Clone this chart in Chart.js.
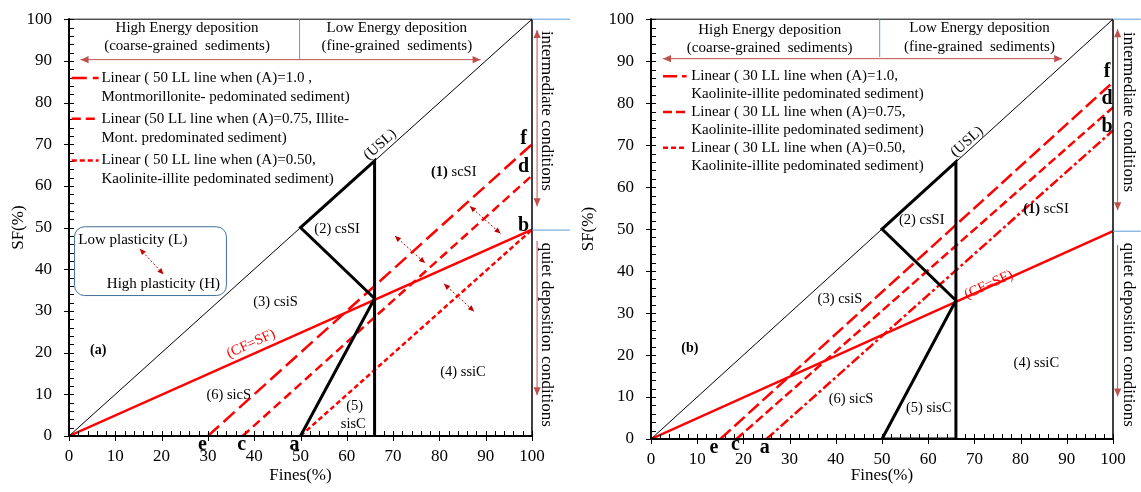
<!DOCTYPE html>
<html>
<head>
<meta charset="utf-8">
<script src="https://cdn.jsdelivr.net/npm/chart.js@4"></script>
<style>
  html, body { margin: 0; padding: 0; background: #fff; }
  #wrap { position: relative; width: 1141px; height: 492px; overflow: hidden; }
  canvas { position: absolute; top: 0; }
  #chartA { left: 0; }
  #chartB { left: 570px; }
</style>
</head>
<body>
<div id="wrap">
  <canvas id="chartA" width="570" height="492"></canvas>
  <canvas id="chartB" width="571" height="492"></canvas>
</div>
<script>
const FONT = 'Liberation Serif';

// axis ticks, both panels
const tickValues = [0, 10, 20, 30, 40, 50, 60, 70, 80, 90, 100];

// upper silt line and the CF = SF line
const uslLine = [{x: 0, y: 0}, {x: 100, y: 100}];
const cfsfLine = [{x: 0, y: 0}, {x: 100, y: 49.5}];

// zone boundaries as one polyline: a -> (66,33) -> (50,50) -> (66,66) -> (66,0)
const zonesA = [{x: 50, y: 0}, {x: 66, y: 33}, {x: 50, y: 50}, {x: 66, y: 66}, {x: 66, y: 0}];
const zonesB = [{x: 50, y: 0}, {x: 66, y: 33}, {x: 50, y: 50}, {x: 66, y: 66}, {x: 66, y: 0}, {x: 50, y: 0}];

// 50 LL lines, panel (a): e-f, c-d, a-b
const ll50A100 = [{x: 30, y: 0}, {x: 100, y: 70}];
const ll50A075 = [{x: 37.5, y: 0}, {x: 100, y: 62.5}];
const ll50A050 = [{x: 50, y: 0}, {x: 100, y: 49.5}];

// 30 LL lines, panel (b): e-f, c-d, a-b
const ll30A100 = [{x: 15, y: 0}, {x: 100, y: 85}];
const ll30A075 = [{x: 18.5, y: 0}, {x: 100, y: 79}];
const ll30A050 = [{x: 25, y: 0}, {x: 100, y: 73.5}];

const RED = '#ff0000';
const DARKRED = '#c0504d';
const BLUE = '#5b9bd5';
const dashA = {a100: [15, 6], a075: [9, 5], a050: [5, 3]};
const dashB = {a100: [14, 5], a075: [9, 4], a050: [10, 3, 3, 3]};

function lineSet(data, color, width, dash) {
  return {data, borderColor: color, borderWidth: width, borderDash: dash || [],
          pointRadius: 0, fill: false, tension: 0, showLine: true};
}

function drawArrow(ctx, x1, y1, x2, y2, o) {
  const ang = Math.atan2(y2 - y1, x2 - x1);
  const hl = o.head || 7, hw = hl * 0.45;
  ctx.save();
  ctx.strokeStyle = o.color; ctx.fillStyle = o.color; ctx.lineWidth = o.width || 1;
  ctx.setLineDash(o.dash || []);
  ctx.beginPath(); ctx.moveTo(x1, y1); ctx.lineTo(x2, y2); ctx.stroke();
  ctx.setLineDash([]);
  const head = (x, y, a) => {
    ctx.beginPath();
    ctx.moveTo(x, y);
    ctx.lineTo(x - hl * Math.cos(a) + hw * Math.sin(a), y - hl * Math.sin(a) - hw * Math.cos(a));
    ctx.lineTo(x - hl * Math.cos(a) - hw * Math.sin(a), y - hl * Math.sin(a) + hw * Math.cos(a));
    ctx.closePath(); ctx.fill();
  };
  head(x2, y2, ang);
  if (o.both) head(x1, y1, ang + Math.PI);
  ctx.restore();
}

function drawText(ctx, x, y, n) {
  const parts = Array.isArray(n.s) ? n.s : [[n.s, !!n.bold]];
  const size = n.size || 15;
  ctx.save();
  ctx.translate(x, y);
  if (n.rot) ctx.rotate(n.rot * Math.PI / 180);
  ctx.fillStyle = n.color || '#000';
  ctx.textBaseline = 'middle';
  ctx.textAlign = 'left';
  let total = 0;
  const widths = parts.map(([s, b]) => {
    ctx.font = (b ? 'bold ' : '') + size + 'px "' + FONT + '"';
    const w = ctx.measureText(s).width;
    total += w;
    return w;
  });
  let cx = n.align === 'left' ? 0 : -total / 2;
  parts.forEach(([s, b], i) => {
    ctx.font = (b ? 'bold ' : '') + size + 'px "' + FONT + '"';
    ctx.fillText(s, cx, 0);
    cx += widths[i];
  });
  ctx.restore();
}

function roundBox(ctx, l, t, r, b, rad) {
  ctx.beginPath();
  ctx.moveTo(l + rad, t);
  ctx.arcTo(r, t, r, b, rad);
  ctx.arcTo(r, b, l, b, rad);
  ctx.arcTo(l, b, l, t, rad);
  ctx.arcTo(l, t, r, t, rad);
  ctx.closePath();
}

// frame, inward ticks and all the labels/arrows drawn over the plot
function decorPlugin(notes) {
  return {
    id: 'decor',
    afterDatasetsDraw(chart) {
      const ctx = chart.ctx, a = chart.chartArea;
      const X = v => chart.scales.x.getPixelForValue(v);
      const Y = v => chart.scales.y.getPixelForValue(v);
      ctx.save();
      ctx.strokeStyle = '#000';
      ctx.lineWidth = 1;
      ctx.beginPath();
      ctx.moveTo(a.left, a.top); ctx.lineTo(a.right, a.top);
      ctx.stroke();
      ctx.lineWidth = 1.5;
      ctx.beginPath();
      ctx.moveTo(a.right, a.top); ctx.lineTo(a.right, a.bottom);
      ctx.stroke();
      ctx.lineWidth = 2;
      ctx.beginPath();
      ctx.moveTo(a.left, a.top - 1); ctx.lineTo(a.left, a.bottom); ctx.lineTo(a.right + 1, a.bottom);
      ctx.stroke();
      ctx.lineWidth = 1;
      for (let v = 0; v <= 100; v += 2) {
        const major = v % 10 === 0;
        const px = Math.round(X(v)) + 0.5, py = Math.round(Y(v)) + 0.5;
        ctx.beginPath();
        ctx.moveTo(px, a.bottom + (major ? 5 : 0)); ctx.lineTo(px, a.bottom - 5);
        ctx.moveTo(a.left - (major ? 5 : 0), py); ctx.lineTo(a.left + 5, py);
        ctx.stroke();
      }
      notes.forEach(n => {
        if (n.t === 'text') {
          drawText(ctx, X(n.x), Y(n.y), n);
        } else if (n.t === 'arrow') {
          drawArrow(ctx, X(n.x1), Y(n.y1), X(n.x2), Y(n.y2), n);
        } else if (n.t === 'line') {
          ctx.save();
          ctx.strokeStyle = n.color; ctx.lineWidth = n.width || 1;
          ctx.setLineDash(n.dash || []);
          ctx.beginPath(); ctx.moveTo(X(n.x1), Y(n.y1)); ctx.lineTo(X(n.x2), Y(n.y2)); ctx.stroke();
          ctx.restore();
        } else if (n.t === 'box') {
          ctx.save();
          ctx.strokeStyle = n.color; ctx.lineWidth = 1;
          roundBox(ctx, X(n.x1), Y(n.y1), X(n.x2), Y(n.y2), 10);
          ctx.stroke();
          ctx.restore();
        }
      });
      ctx.restore();
    }
  };
}

function makeChart(id, datasets, notes, box) {
  const tickFont = {family: FONT, size: 17};
  return new Chart(document.getElementById(id), {
    type: 'line',
    data: {datasets},
    options: {
      responsive: false,
      animation: false,
      events: [],
      layout: {padding: {top: box.top, right: box.right, left: 0, bottom: 0}},
      plugins: {legend: {display: false}, tooltip: {enabled: false}},
      scales: {
        x: {
          type: 'linear', min: 0, max: 100,
          afterBuildTicks: s => { s.ticks = tickValues.map(v => ({value: v})); },
          afterFit: s => { s.height = box.xh; },
          ticks: {font: tickFont, color: '#000', padding: 2, maxRotation: 0, autoSkip: false},
          grid: {display: false},
          border: {display: false},
          title: {display: true, text: 'Fines(%)', font: tickFont, color: '#000', padding: {top: 0, bottom: 6}}
        },
        y: {
          type: 'linear', min: 0, max: 100,
          afterBuildTicks: s => { s.ticks = tickValues.map(v => ({value: v})); },
          afterFit: s => { s.width = box.yw; },
          ticks: {font: tickFont, color: '#000', padding: 9, autoSkip: false},
          grid: {display: false},
          border: {display: false},
          title: {display: true, text: 'SF(%)', font: tickFont, color: '#000', padding: {top: 8, bottom: 0}}
        }
      }
    },
    plugins: [decorPlugin(notes)]
  });
}

// panel (a): 50 LL lines
const notesA = [
  {t: 'text', x: 25.5, y: 97.8, s: 'High Energy deposition'},
  {t: 'text', x: 25.5, y: 93.5, s: '(coarse-grained  sediments)'},
  {t: 'text', x: 70.8, y: 97.8, s: 'Low Energy deposition'},
  {t: 'text', x: 70.8, y: 93.5, s: '(fine-grained  sediments)'},
  {t: 'line', x1: 49.8, y1: 100, x2: 49.8, y2: 90.3, color: BLUE},
  {t: 'arrow', x1: 2.5, y1: 90.3, x2: 88.9, y2: 90.3, color: DARKRED, both: true, head: 8},
  {t: 'line', x1: 0.6, y1: 85.9, x2: 6.4, y2: 85.9, color: RED, width: 2.5, dash: dashA.a100},
  {t: 'text', x: 7, y: 85.9, s: 'Linear ( 50 LL line when (A)=1.0 ,', align: 'left'},
  {t: 'text', x: 7, y: 81.4, s: 'Montmorillonite- pedominated sediment)', align: 'left'},
  {t: 'line', x1: 0.6, y1: 76.1, x2: 6.4, y2: 76.1, color: RED, width: 2.5, dash: dashA.a075},
  {t: 'text', x: 7, y: 76.1, s: 'Linear (50 LL line when (A)=0.75, Illite-', align: 'left'},
  {t: 'text', x: 7, y: 71.4, s: 'Mont. predominated sediment)', align: 'left'},
  {t: 'line', x1: 0.6, y1: 66.1, x2: 6.4, y2: 66.1, color: RED, width: 2.5, dash: dashA.a050},
  {t: 'text', x: 7, y: 66.1, s: 'Linear ( 50 LL line when (A)=0.50,', align: 'left'},
  {t: 'text', x: 7, y: 61.6, s: 'Kaolinite-illite pedominated sediment)', align: 'left'},
  {t: 'text', x: 67.2, y: 69.9, s: '(USL)', rot: -42},
  {t: 'text', x: 83.1, y: 63.3, s: [['(1)', true], [' scSI', false]], size: 14.5},
  {t: 'text', x: 57.9, y: 49.6, s: '(2) csSI', size: 14.5},
  {t: 'text', x: 44.6, y: 32.2, s: '(3) csiS', size: 14.5},
  {t: 'text', x: 85.1, y: 15.3, s: '(4) ssiC', size: 14.5},
  {t: 'text', x: 61.7, y: 7.2, s: '(5)', size: 14.5},
  {t: 'text', x: 61.4, y: 2.8, s: 'sisC', size: 14.5},
  {t: 'text', x: 34.5, y: 9.8, s: '(6) sicS', size: 14.5},
  {t: 'text', x: 6.3, y: 20.5, s: '(a)', bold: true, size: 14},
  {t: 'text', x: 39.3, y: 22.1, s: '(CF=SF)', rot: -24.3, color: RED, size: 14.5},
  {t: 'text', x: 98.2, y: 71.4, s: 'f', bold: true, size: 20},
  {t: 'text', x: 98.2, y: 64.5, s: 'd', bold: true, size: 20},
  {t: 'text', x: 98.2, y: 50.4, s: 'b', bold: true, size: 20},
  {t: 'text', x: 28.8, y: -2.2, s: 'e', bold: true, size: 20},
  {t: 'text', x: 37.3, y: -2.2, s: 'c', bold: true, size: 20},
  {t: 'text', x: 48.7, y: -2.2, s: 'a', bold: true, size: 20},
  {t: 'box', x1: 1.2, y1: 50.2, x2: 34, y2: 33.7, color: '#41719c'},
  {t: 'text', x: 2, y: 47, s: 'Low plasticity (L)', align: 'left'},
  {t: 'text', x: 20.4, y: 36.4, s: 'High plasticity (H)'},
  {t: 'arrow', x1: 15.3, y1: 44.9, x2: 20.4, y2: 38.8, color: '#c00000', both: true, dash: [2, 2], head: 6},
  {t: 'arrow', x1: 70.4, y1: 48, x2: 76.9, y2: 41.5, color: '#c00000', both: true, dash: [2, 2], head: 6},
  {t: 'arrow', x1: 86.6, y1: 55.1, x2: 93.2, y2: 48.6, color: '#c00000', both: true, dash: [2, 2], head: 6},
  {t: 'arrow', x1: 81, y1: 36.5, x2: 87.5, y2: 29.9, color: '#c00000', both: true, dash: [2, 2], head: 6},
  {t: 'line', x1: 100, y1: 100, x2: 108.5, y2: 100, color: BLUE},
  {t: 'line', x1: 100, y1: 49.4, x2: 108.5, y2: 49.4, color: BLUE},
  {t: 'arrow', x1: 101.1, y1: 97.4, x2: 101.1, y2: 55.1, color: DARKRED, both: true, head: 8},
  {t: 'arrow', x1: 101.1, y1: 46.8, x2: 101.1, y2: 9.8, color: DARKRED, head: 8},
  {t: 'text', x: 103.2, y: 78, s: 'intermediate conditions', rot: 90, size: 17},
  {t: 'text', x: 103.2, y: 24.3, s: 'quiet deposition conditions', rot: 90, size: 17}
];

// panel (b): 30 LL lines
const notesB = [
  {t: 'text', x: 25.7, y: 97.4, s: 'High Energy deposition'},
  {t: 'text', x: 25.7, y: 93.1, s: '(coarse-grained  sediments)'},
  {t: 'text', x: 71.1, y: 97.9, s: 'Low Energy deposition'},
  {t: 'text', x: 71.1, y: 93.3, s: '(fine-grained  sediments)'},
  {t: 'line', x1: 49.5, y1: 100, x2: 49.5, y2: 91, color: BLUE},
  {t: 'arrow', x1: 2.6, y1: 90.6, x2: 89, y2: 90.6, color: DARKRED, both: true, head: 8},
  {t: 'line', x1: 2.6, y1: 86.4, x2: 7.7, y2: 86.4, color: RED, width: 2.5, dash: dashB.a100},
  {t: 'text', x: 8.7, y: 86.4, s: 'Linear ( 30 LL line when (A)=1.0,', align: 'left'},
  {t: 'text', x: 8.7, y: 82.1, s: 'Kaolinite-illite pedominated sediment)', align: 'left'},
  {t: 'line', x1: 2.6, y1: 77.9, x2: 7.7, y2: 77.9, color: RED, width: 2.5, dash: dashB.a075},
  {t: 'text', x: 8.7, y: 77.9, s: 'Linear ( 30 LL line when (A)=0.75,', align: 'left'},
  {t: 'text', x: 8.7, y: 73.6, s: 'Kaolinite-illite pedominated sediment)', align: 'left'},
  {t: 'line', x1: 2.6, y1: 69.4, x2: 7.7, y2: 69.4, color: RED, width: 2.5, dash: [5, 3]},
  {t: 'text', x: 8.7, y: 69.4, s: 'Linear ( 30 LL line when (A)=0.50,', align: 'left'},
  {t: 'text', x: 8.7, y: 65.1, s: 'Kaolinite-illite pedominated sediment)', align: 'left'},
  {t: 'text', x: 68.4, y: 70.8, s: '(USL)', rot: -42},
  {t: 'text', x: 85.5, y: 54.7, s: [['(1)', true], [' scSI', false]], size: 14.5},
  {t: 'text', x: 58.6, y: 52.1, s: '(2) csSI', size: 14.5},
  {t: 'text', x: 40.9, y: 33.3, s: '(3) csiS', size: 14.5},
  {t: 'text', x: 83.4, y: 18, s: '(4) ssiC', size: 14.5},
  {t: 'text', x: 60.1, y: 7.3, s: '(5) sisC', size: 14.5},
  {t: 'text', x: 43.3, y: 9.4, s: '(6) sicS', size: 14.5},
  {t: 'text', x: 8.4, y: 21.6, s: '(b)', bold: true, size: 14},
  {t: 'text', x: 73.1, y: 36.7, s: '(CF=SF)', rot: -24.3, color: RED, size: 14.5},
  {t: 'text', x: 98.7, y: 87.5, s: 'f', bold: true, size: 20},
  {t: 'text', x: 98.7, y: 81.1, s: 'd', bold: true, size: 20},
  {t: 'text', x: 98.7, y: 74.4, s: 'b', bold: true, size: 20},
  {t: 'text', x: 13.6, y: -2, s: 'e', bold: true, size: 20},
  {t: 'text', x: 18.3, y: -1.5, s: 'c', bold: true, size: 20},
  {t: 'text', x: 24.6, y: -2, s: 'a', bold: true, size: 20},
  {t: 'line', x1: 100, y1: 100, x2: 106, y2: 100, color: BLUE},
  {t: 'line', x1: 100, y1: 49.5, x2: 106, y2: 49.5, color: BLUE},
  {t: 'arrow', x1: 101, y1: 97.6, x2: 101, y2: 54.5, color: DARKRED, both: true, head: 8},
  {t: 'arrow', x1: 101, y1: 46.2, x2: 101, y2: 10.1, color: DARKRED, head: 8},
  {t: 'text', x: 103.3, y: 77.9, s: 'intermediate conditions', rot: 90, size: 17},
  {t: 'text', x: 103.3, y: 24.8, s: 'quiet deposition conditions', rot: 90, size: 17}
];

makeChart('chartA', [
  lineSet(uslLine, '#000', 1),
  lineSet(zonesA, '#000', 3),
  lineSet(cfsfLine, RED, 2.5),
  lineSet(ll50A100, RED, 2.5, dashA.a100),
  lineSet(ll50A075, RED, 2.5, dashA.a075),
  lineSet(ll50A050, RED, 2.5, dashA.a050)
], notesA, {top: 17, right: 38, xh: 56, yw: 69});

makeChart('chartB', [
  lineSet(uslLine, '#000', 1),
  lineSet(zonesB, '#000', 3),
  lineSet(cfsfLine, RED, 2.5),
  lineSet(ll30A100, RED, 2.5, dashB.a100),
  lineSet(ll30A075, RED, 2.5, dashB.a075),
  lineSet(ll30A050, RED, 2.5, dashB.a050)
], notesB, {top: 19, right: 28, xh: 53, yw: 81});
</script>
</body>
</html>
